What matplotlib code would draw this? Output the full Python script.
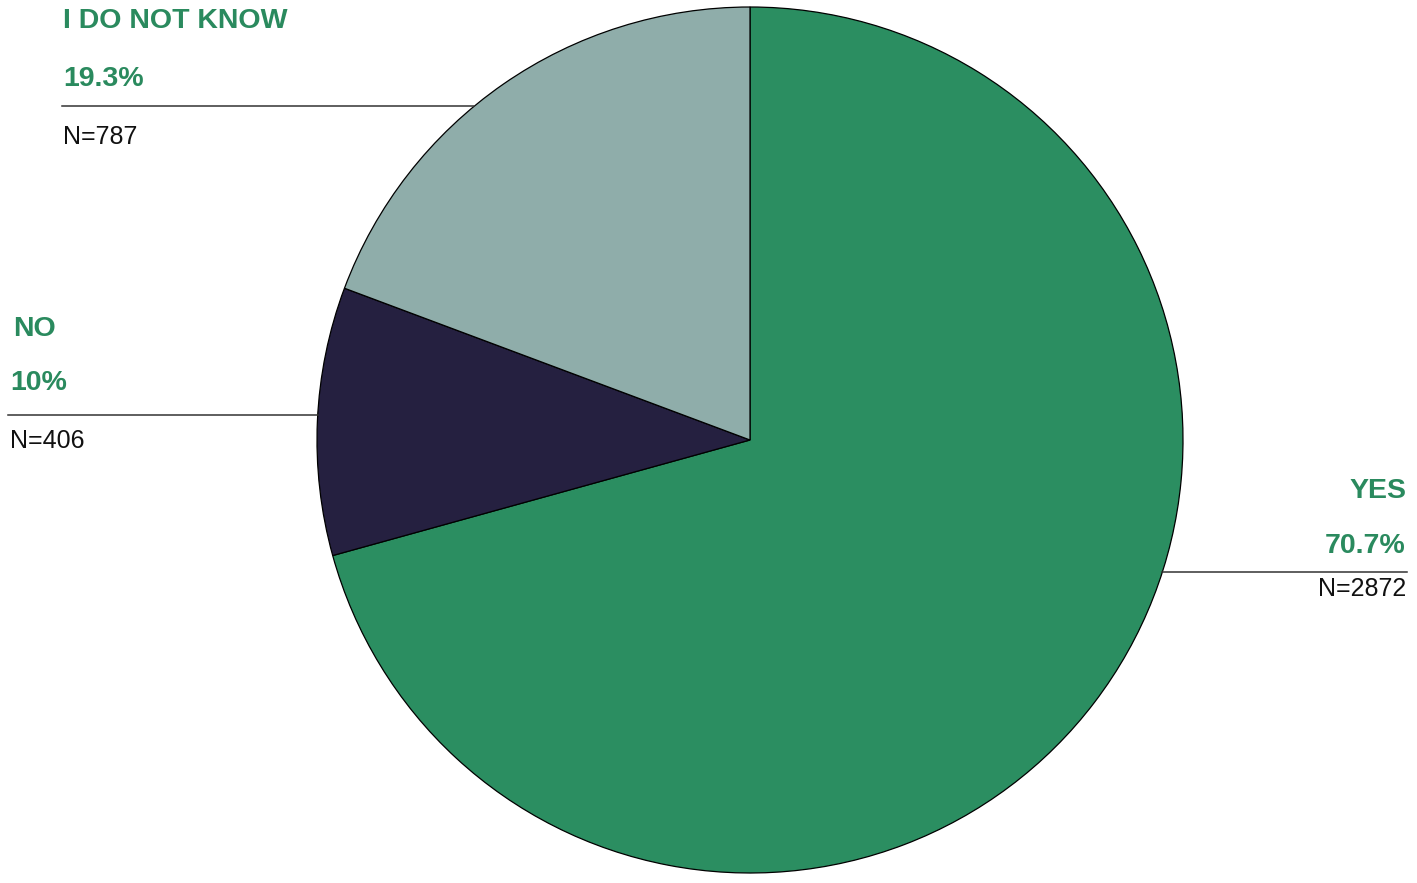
import numpy as np
import matplotlib.pyplot as plt

# data
labels = ["YES", "NO", "I DO NOT KNOW"]
percents = [70.7, 10.0, 19.3]
pct_text = ["70.7%", "10%", "19.3%"]
counts = [2872, 406, 787]
colors = ["#2b8e61", "#252040", "#8fadaa"]

plt.rcParams['font.family'] = ['Liberation Sans', 'DejaVu Sans']

W, H = 1417, 883
fig = plt.figure(figsize=(W / 100, H / 100), dpi=100)
ax = fig.add_axes([0, 0, 1, 1])
ax.set_xlim(0, W)
ax.set_ylim(0, H)
ax.set_aspect('equal')
ax.axis('off')

cx, cy, r = 750, H - 440, 433
ax.pie(percents, colors=colors, startangle=90, counterclock=False,
       center=(cx, cy), radius=r,
       wedgeprops=dict(edgecolor='black', linewidth=0.9))
ax.set_xlim(0, W)
ax.set_ylim(0, H)

green = "#2a8a5e"


def pie_edge(y, side):
    dy = y - cy
    return cx + side * np.sqrt(r ** 2 - dy ** 2)


# label blocks: (index, text x, align, label y, pct y, line y, N y, line x-left, side)
blocks = [
    (2, 63, 'left', 21, 79, 106, 137, 62, -1),
    (1, 10, 'left', 329, 383, 415, 441, 8, -1),
    (0, 1406, 'right', 491, 546, 572, 589, 1407, 1),
]

for i, tx, ha, ly, py, liney, ny, lx, side in blocks:
    ax.text(tx + (3 if ha == 'left' and i == 1 else 0), H - ly, labels[i],
            ha=ha, va='center', fontsize=20.5, fontweight='bold', color=green)
    ax.text(tx, H - py, pct_text[i], ha=ha, va='center', fontsize=20.5,
            fontweight='bold', color=green)
    ax.text(tx, H - ny, "N=" + str(counts[i]), ha=ha, va='center',
            fontsize=18, color='#111111')
    ex = pie_edge(H - liney, side)
    ax.plot([lx, ex], [H - liney, H - liney], color='#333333', linewidth=1.1)

fig.savefig("out.png", dpi=100)
